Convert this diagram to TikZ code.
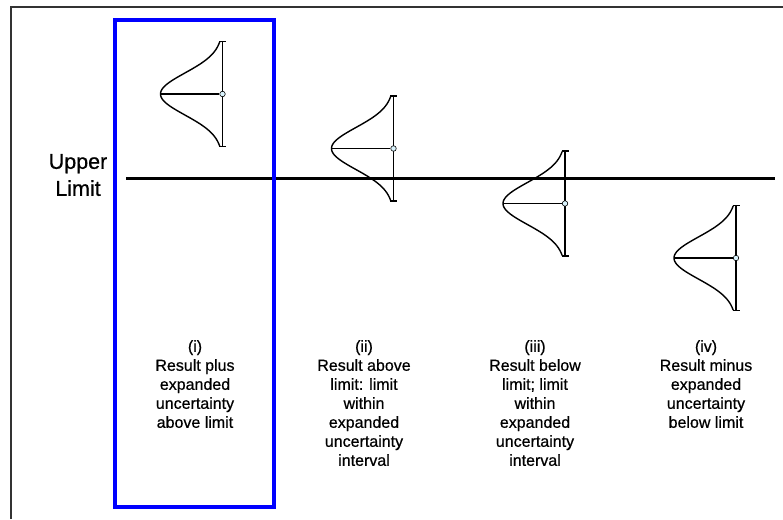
\documentclass[tikz,border=0pt]{standalone}
\usepackage{fontspec}
\setmainfont{Liberation Sans}
\newfontfamily\lblfont[FakeBold=0.6]{Liberation Sans}
\begin{document}
\begin{tikzpicture}[x=1pt,y=-1pt,
  frame/.style={draw=black!80,line width=1.5pt},
  limitline/.style={draw=black,line width=3pt},
  hilite/.style={draw=blue,line width=4pt},
  gline/.style={draw=black,line width=1.4pt},
  dot/.style={circle,draw=black,line width=0.6pt,fill=cyan!15!white,inner sep=0pt,minimum size=5.5pt},
  lbl/.style={align=center,anchor=north,inner sep=0pt,font=\lblfont\fontsize{16}{19}\selectfont},
  ul/.style={align=center,inner sep=0pt,font=\lblfont\fontsize{21.5}{27}\selectfont}]
\useasboundingbox (0,0) rectangle (783,519);
\fill[white] (0,0) rectangle (783,519);
% frame
\coordinate (fbl) at (11,519);
\coordinate (ftl) at (11,7);
\coordinate (ftr) at (783,7);
\draw[frame] (fbl) -- (ftl) -- (ftr);
% upper limit line
\coordinate (la) at (126,178);
\coordinate (lb) at (775,178);
\draw[limitline] (la) -- (lb);
\node[ul] (ultext) at (78,175) {Upper\\Limit};
% gaussian glyphs
\foreach \i/\bx/\cy in {1/222.5/94, 2/393.5/148.5, 3/565/203.5, 4/736/258}{
  \coordinate (top\i) at (\bx,\cy-52.5);
  \coordinate (bot\i) at (\bx,\cy+52.5);
  \coordinate (peak\i) at (\bx-62,\cy);
  \draw[gline] plot[domain=-52:52,samples=80,smooth] ({\bx-62*exp(-(\x)*(\x)/882)},{\cy+\x});
  \draw[gline] (top\i) -- (bot\i);
  \draw[gline] ([xshift=-3.5]top\i) -- ([xshift=3.5]top\i);
  \draw[gline] ([xshift=-3.5]bot\i) -- ([xshift=3.5]bot\i);
  \node[dot] (c\i) at (\bx,\cy) {};
  \draw[gline] (peak\i) -- (c\i);
}
% labels
\node[lbl] (t1) at (195,340) {(i)\\Result plus\\expanded\\uncertainty\\above limit};
\node[lbl] (t2) at (364,340) {(ii)\\Result above\\limit: limit\\within\\expanded\\uncertainty\\interval};
\node[lbl] (t3) at (535,340) {(iii)\\Result below\\limit; limit\\within\\expanded\\uncertainty\\interval};
\node[lbl] (t4) at (706,340) {(iv)\\Result minus\\expanded\\uncertainty\\below limit};
% highlight box
\coordinate (ba) at (115,20);
\coordinate (bb) at (274,507);
\draw[hilite] (ba) rectangle (bb);
\end{tikzpicture}
\end{document}
